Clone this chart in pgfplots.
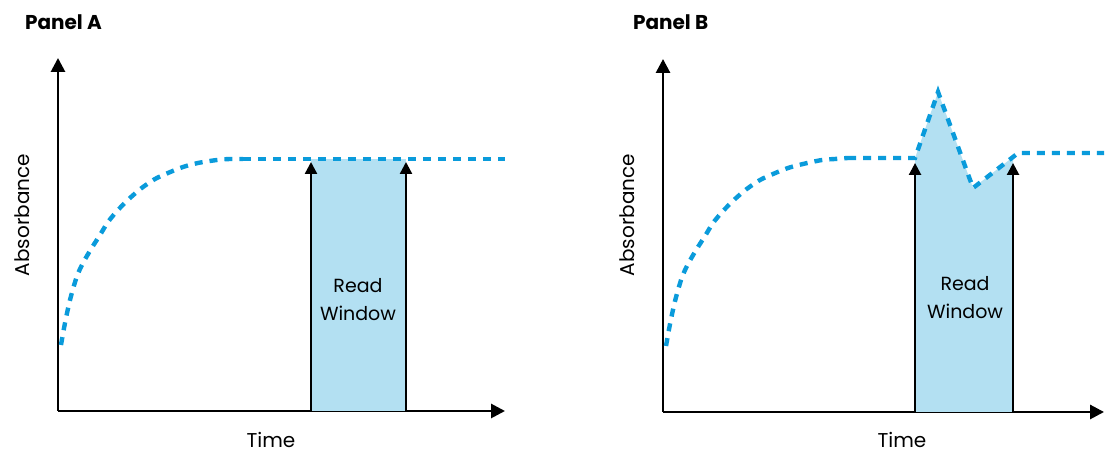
\documentclass[border=0pt]{standalone}
\usepackage{pgfplots}
\pgfplotsset{compat=1.18}
\usetikzlibrary{arrows.meta}
\usepackage{fontspec}
\setmainfont{Poppins}
\definecolor{curveblue}{HTML}{0A9BDB}
\definecolor{fillblue}{HTML}{B3E0F2}
\begin{document}
\begin{tikzpicture}[x=0.5pt,y=0.5pt]
\path[use as bounding box] (0,0) rectangle (1106,453);
\pgfplotsset{
  panel/.style={
    scale only axis, axis lines=left, ticks=none, clip=false,
    ymin=0, ymax=353, xmin=0,
    axis line style={line width=1.4pt, -{Triangle[length=7pt,width=7pt]}},
  },
  curve/.style={curveblue, line width=2.2pt, dash pattern=on 4pt off 3.5pt},
  warrow/.style={black, line width=1.2pt, -{Triangle[length=6pt,width=6pt]}},
}
% Panel A
\begin{axis}[panel, at={(58,42)}, anchor=south west, width=223.5pt, height=176.5pt, xmax=447]
\addplot[fill=fillblue, draw=none] coordinates {(253,0)(253,252)(348,252)(348,0)} -- cycle;
\addplot[curve, smooth] coordinates {(3,66)(7,88)(12,111)(18.7,134)(25,148)(33.7,163)(42,176)(50,189)(60,201)(72,213)(83.7,223)(97,232)(110,238)(125,244)(140,248)(159,251)(172,252)(185,252)};
\addplot[curve] coordinates {(185,252)(447,252)};
\addplot[warrow] coordinates {(253,0)(253,249)};
\addplot[warrow] coordinates {(348,0)(348,249)};
\end{axis}
% Panel B
\begin{axis}[panel, at={(663,41)}, anchor=south west, width=220.5pt, height=176.5pt, xmax=441]
\addplot[fill=fillblue, draw=none] coordinates {(252,0)(252,254)(275,320)(310,224)(350,255)(350,0)} -- cycle;
\addplot[curve, smooth] coordinates {(3,66)(7,88)(12,111)(18.7,134)(25,148)(33.7,163)(42,176)(50,189)(60,201)(72,213)(83.7,223)(97,232)(110,238)(125,244)(140,248)(159,252)(172,253)(185,254)};
\addplot[curve] coordinates {(185,254)(252,254)(275,320)(310,224)(350,255)(355,259)(441,259)};
\addplot[warrow] coordinates {(252,0)(252,249)};
\addplot[warrow] coordinates {(350,0)(350,249)};
\end{axis}
% Labels
\node[anchor=west, font=\bfseries\fontsize{10}{12}\selectfont] at (18,431) {Panel A};
\node[anchor=west, font=\bfseries\fontsize{10}{12}\selectfont] at (626,431) {Panel B};
\node[rotate=90, font=\fontsize{10}{12}\selectfont] at (22,238) {Absorbance};
\node[rotate=90, font=\fontsize{10}{12}\selectfont] at (627,238) {Absorbance};
\node[font=\fontsize{10}{12}\selectfont] at (271,13) {Time};
\node[font=\fontsize{10}{12}\selectfont] at (902,13) {Time};
\node[align=center, font=\fontsize{9.5}{14}\selectfont] at (358,153) {Read\\Window};
\node[align=center, font=\fontsize{9.5}{14}\selectfont] at (965,155) {Read\\Window};
\end{tikzpicture}
\end{document}
